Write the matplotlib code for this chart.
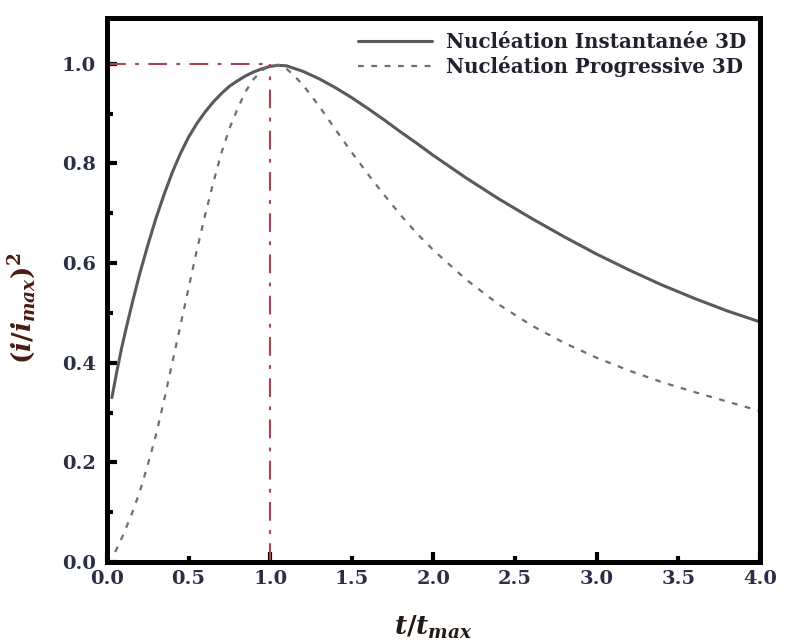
import numpy as np
import matplotlib
matplotlib.use("Agg")
import matplotlib.pyplot as plt
from matplotlib.ticker import MultipleLocator, FormatStrFormatter

# Scharifker–Hills dimensionless transients, (i/i_max)^2 versus t/t_max
t_inst = [0.03, 0.06, 0.09, 0.12, 0.16, 0.20, 0.25, 0.30, 0.35, 0.40, 0.45,
          0.50, 0.55, 0.60, 0.65, 0.70, 0.75, 0.80, 0.85, 0.90, 0.95, 1.00,
          1.05, 1.10, 1.20, 1.30, 1.40, 1.50, 1.60, 1.70, 1.80, 1.90, 2.00,
          2.20, 2.40, 2.60, 2.80, 3.00, 3.20, 3.40, 3.60, 3.80, 4.00]
i_inst = [0.330, 0.382, 0.430, 0.473, 0.527, 0.578, 0.636, 0.690, 0.738, 0.782, 0.820,
          0.853, 0.880, 0.903, 0.923, 0.940, 0.955, 0.966, 0.976, 0.984, 0.990, 0.995,
          0.997, 0.996, 0.985, 0.970, 0.952, 0.932, 0.910, 0.887, 0.863, 0.840, 0.816,
          0.771, 0.729, 0.690, 0.653, 0.618, 0.586, 0.556, 0.529, 0.504, 0.482]

t_prog = [0.05, 0.10, 0.15, 0.20, 0.25, 0.30, 0.35, 0.40, 0.45, 0.50, 0.55,
          0.60, 0.65, 0.70, 0.75, 0.80, 0.85, 0.90, 0.95, 1.00, 1.05, 1.10,
          1.15, 1.20, 1.30, 1.40, 1.50, 1.60, 1.70, 1.80, 1.90, 2.00, 2.20,
          2.40, 2.60, 2.80, 3.00, 3.20, 3.40, 3.60, 3.80, 4.00]
i_prog = [0.020, 0.055, 0.095, 0.140, 0.195, 0.255, 0.325, 0.400, 0.475, 0.550, 0.625,
          0.695, 0.760, 0.820, 0.870, 0.910, 0.945, 0.970, 0.987, 0.996, 0.998, 0.990,
          0.975, 0.958, 0.915, 0.868, 0.822, 0.778, 0.736, 0.696, 0.659, 0.626, 0.567,
          0.517, 0.475, 0.440, 0.410, 0.384, 0.361, 0.341, 0.322, 0.303]

# coordinates of the current maximum
t_peak = 1.0
i_peak = 1.0

labels = ["Nucléation Instantanée 3D", "Nucléation Progressive 3D"]

plt.rcParams["font.family"] = "DejaVu Serif"
plt.rcParams["mathtext.fontset"] = "custom"
plt.rcParams["mathtext.rm"] = "DejaVu Serif:bold"
plt.rcParams["mathtext.it"] = "DejaVu Serif:bold:italic"
plt.rcParams["mathtext.bf"] = "DejaVu Serif:bold"

tick_color = "#2a2f45"

fig = plt.figure(figsize=(7.85, 6.43), dpi=100)
ax = fig.add_axes([0.1363, 0.126, 0.968 - 0.1363, 0.972 - 0.126])

ax.plot(t_inst, i_inst, color="#5a5a5a", lw=2.2, solid_capstyle="round",
        label=labels[0])
ax.plot(t_prog, i_prog, color="#6e6e6e", lw=1.6, dashes=(2.6, 3.4),
        label=labels[1])

# guide lines to the maximum
ax.plot([0, t_peak], [i_peak, i_peak], color="#a84450", lw=1.5,
        dashes=(9.0, 4.5, 1.8, 4.5))
ax.plot([t_peak, t_peak], [0, i_peak], color="#a84450", lw=1.5,
        dashes=(9.0, 4.5, 1.8, 4.5))

ax.set_xlim(0, 4.0)
ax.set_ylim(0, 1.092)

for side in ax.spines.values():
    side.set_linewidth(3.6)
    side.set_color("black")

ax.xaxis.set_major_locator(MultipleLocator(1.0))
ax.xaxis.set_minor_locator(MultipleLocator(0.5))
ax.xaxis.set_major_formatter(FormatStrFormatter("%.1f"))
ax.xaxis.set_minor_formatter(FormatStrFormatter("%.1f"))
ax.yaxis.set_major_locator(MultipleLocator(0.2))
ax.yaxis.set_minor_locator(MultipleLocator(0.1))
ax.yaxis.set_major_formatter(FormatStrFormatter("%.1f"))

ax.tick_params(which="both", direction="in", top=False, right=False,
               width=3.0, color="black", labelcolor=tick_color)
ax.tick_params(which="major", length=7)
ax.tick_params(which="minor", length=4.5)
ax.tick_params(axis="x", which="both", pad=6, labelsize=14)
ax.tick_params(axis="y", which="both", pad=8, labelsize=14)
for lab in ax.get_xticklabels(which="both") + ax.get_yticklabels():
    lab.set_fontweight("bold")

ax.set_xlabel(r"$t/t_{max}$", fontsize=19, color="#231a14", labelpad=18)
ax.set_ylabel(r"$(i/i_{max})^2$", fontsize=19, color="#4a1c10")
ax.yaxis.set_label_coords(-0.106, 0.467)

leg = ax.legend(loc="upper right", bbox_to_anchor=(1.0, 1.0), frameon=False,
                handlelength=3.7, handletextpad=0.7, labelspacing=0.2,
                borderaxespad=0.3, prop={"weight": "bold", "size": 14.3})
for txt in leg.get_texts():
    txt.set_color("#22222e")

fig.savefig("out.png", dpi=100, facecolor="white")
